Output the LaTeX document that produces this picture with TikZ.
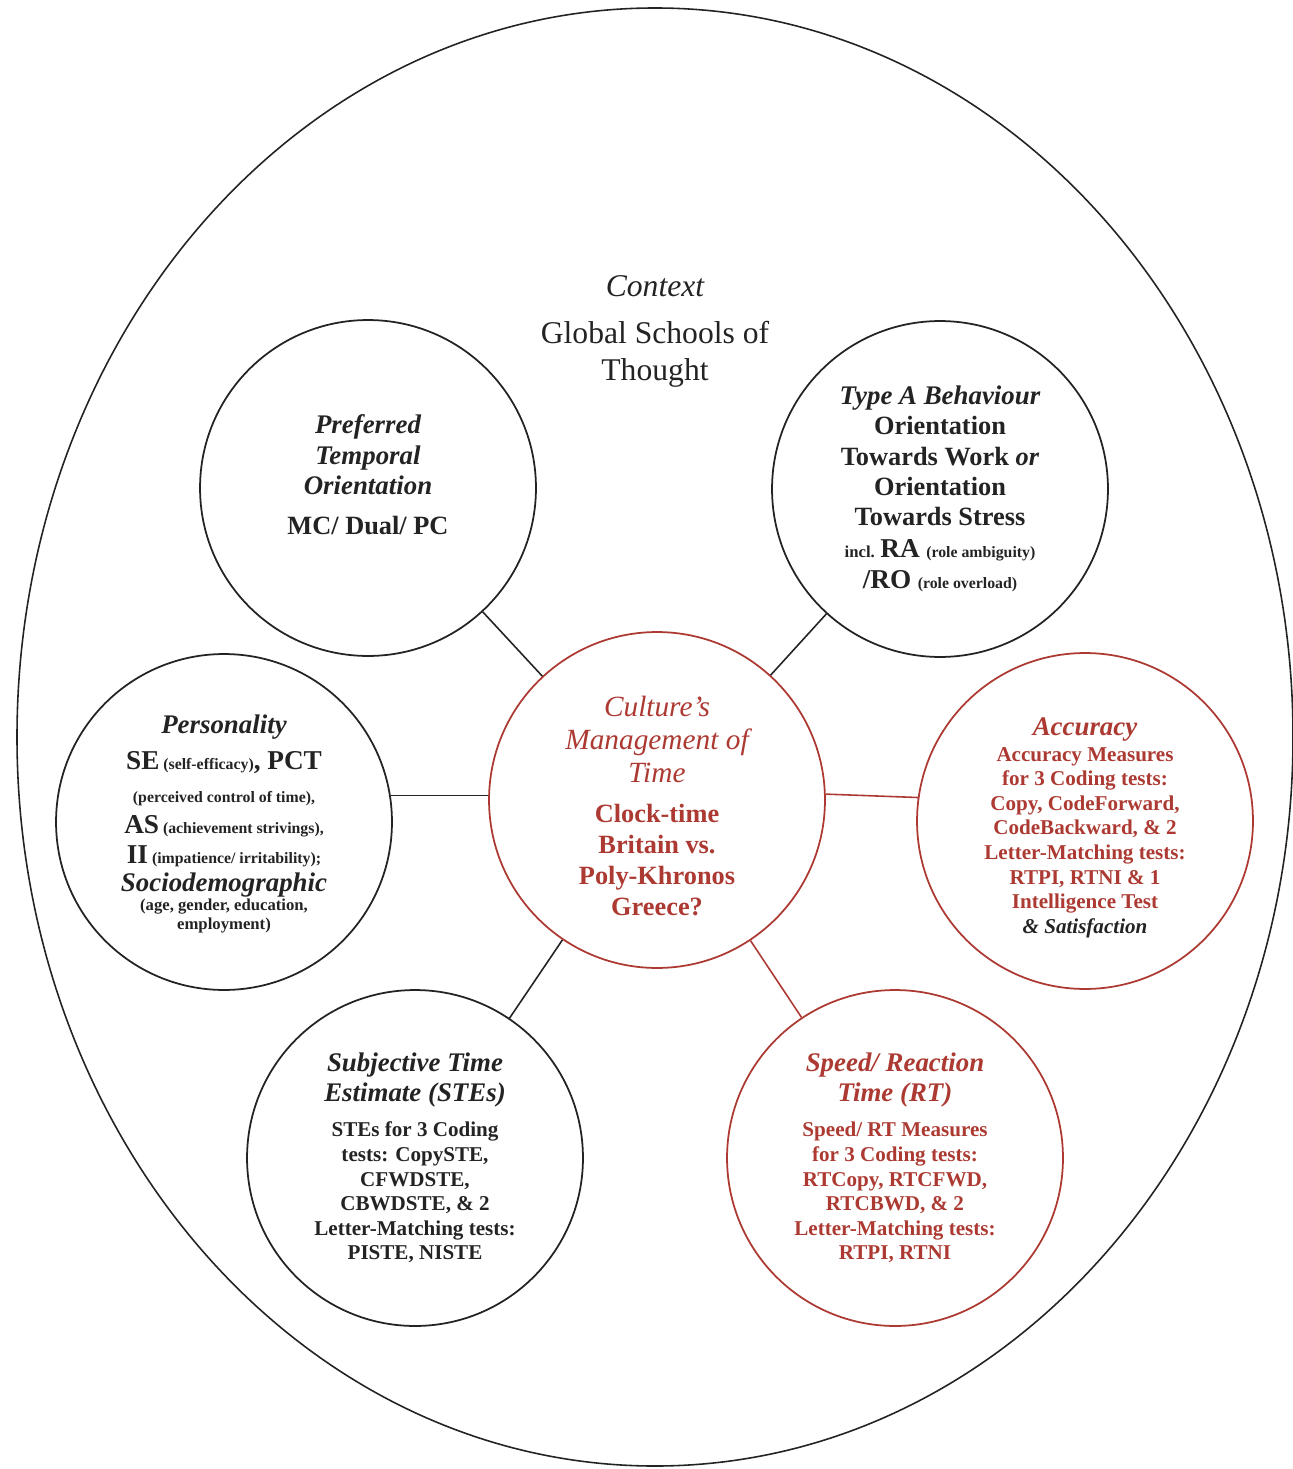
\documentclass[tikz,border=0pt]{standalone}
\usepackage{fontspec}
\setmainfont{Liberation Serif}
\usetikzlibrary{positioning}
\definecolor{culred}{RGB}{172,58,50}
\definecolor{inkgray}{RGB}{35,35,35}
\tikzset{every picture/.style={line width=1pt}}
\tikzset{
  topic/.style={circle, draw=inkgray, minimum size=6.72cm, inner sep=0pt},
  topicred/.style={topic, draw=culred},
  topictxt/.style={align=center, inner sep=0pt, text=inkgray},
  topictxtred/.style={topictxt, text=culred},
  link/.style={draw=inkgray, line width=0.9pt},
  linkred/.style={draw=culred, line width=0.9pt}
}
% font sizes used inside the circles
\newcommand{\ttlsz}{\fontsize{15.3}{17}\selectfont\bfseries\itshape}
\newcommand{\midsz}{\fontsize{15}{17}\selectfont\bfseries}
\newcommand{\bigsz}{\fontsize{15.5}{17}\selectfont\bfseries}
\newcommand{\smlsz}{\fontsize{9}{10.8}\selectfont\bfseries}

\begin{document}
\begin{tikzpicture}[x=0.02cm, y=-0.02cm]
  \useasboundingbox (0,0) rectangle (1293,1469);
  % context ellipse
  \draw[inkgray, line width=0.9pt] (655,737) ellipse [x radius=638, y radius=729];
  \node[text=inkgray, font=\fontsize{18}{21}\selectfont\itshape] (ctx) at (655,286) {Context};
  \node[text=inkgray, align=center, font=\fontsize{18}{21}\selectfont] (gst) at (655,354) {Global Schools of\\Thought};

  % circles
  \node[topic]    (pto)  at (368,488)  {};
  \node[topic]    (tab)  at (940,489)  {};
  \node[topicred] (cmt)  at (657,800)  {};
  \node[topic]    (pers) at (224,822)  {};
  \node[topicred] (acc)  at (1085,821) {};
  \node[topic]    (ste)  at (415,1158) {};
  \node[topicred] (spd)  at (895,1158) {};

  % texts in the circles
  \node[topictxt, font=\fontsize{15}{17.4}\selectfont] (ptotxt) at (368,475)
    {\ttlsz Preferred\\ \ttlsz Temporal\\ \ttlsz Orientation\\[5.3pt]
     \midsz MC/ Dual/ PC};
  \node[topictxt, font=\fontsize{15}{17.2}\selectfont] (tabtxt) at (940,489)
    {\ttlsz Type A Behaviour\\
     \midsz Orientation\\
     \midsz Towards Work \textit{or}\\
     \midsz Orientation\\
     \midsz Towards Stress\\[1pt]
     {\fontsize{9.5}{11}\selectfont\bfseries incl. }{\bigsz RA} {\smlsz (role ambiguity)}\\[0.4pt]
     {\bigsz /RO} {\smlsz (role overload)}};
  \node[topictxtred, font=\fontsize{16.7}{18.8}\selectfont] (cmttxt) at (657,806)
    {\itshape Culture's\\
     \itshape Management of\\
     \itshape Time\\[4pt]
     \midsz Clock-time\\[-1.2pt]
     \midsz Britain vs.\\[-1.2pt]
     \midsz Poly-Khronos\\[-1.2pt]
     \midsz Greece?};
  \node[topictxt, font=\fontsize{9}{10.8}\selectfont\bfseries] (perstxt) at (224,824)
    {{\ttlsz Personality}\\[5.7pt]
     {\bigsz SE} {\smlsz (self-efficacy)}{\bigsz, PCT}\\[8pt]
     {\smlsz (perceived control of time),}\\[4.6pt]
     {\bigsz AS} {\smlsz (achievement strivings),}\\[4pt]
     {\bigsz II} {\smlsz (impatience/ irritability);}\\[2.5pt]
     {\ttlsz Sociodemographic}\\
     {\fontsize{9.5}{10.8}\selectfont (age, gender, education,}\\
     {\fontsize{9.5}{10.8}\selectfont employment)}};
  \node[topictxtred, font=\fontsize{12}{14}\selectfont\bfseries] (acctxt) at (1085,828)
    {{\ttlsz Accuracy}\\[0.4pt]
     Accuracy Measures\\ for 3 Coding tests:\\
     Copy, CodeForward,\\ CodeBackward, \& 2\\
     Letter-Matching tests:\\ RTPI, RTNI \& 1\\
     Intelligence Test\\
     {\itshape\color{inkgray} \& Satisfaction}};
  \node[topictxt, font=\fontsize{12}{14}\selectfont\bfseries] (stetxt) at (415,1158)
    {{\ttlsz Subjective Time}\\[3.1pt] {\ttlsz Estimate (STEs)}\\[6.1pt]
     STEs for 3 Coding\\ tests: CopySTE,\\
     CFWDSTE,\\ CBWDSTE, \& 2\\
     Letter-Matching tests:\\ PISTE, NISTE};
  \node[topictxtred, font=\fontsize{12}{14}\selectfont\bfseries] (spdtxt) at (895,1158)
    {{\ttlsz Speed/ Reaction}\\[3.1pt] {\ttlsz Time (RT)}\\[6.1pt]
     Speed/ RT Measures\\ for 3 Coding tests:\\
     RTCopy, RTCFWD,\\ RTCBWD, \& 2\\
     Letter-Matching tests:\\ RTPI, RTNI};

  % connectors
  \draw[link] (pto) -- (cmt);
  \draw[link] (tab) -- (cmt);
  \draw[link] (pers.9) -- (pers.9 -| cmt.west);
  \draw[link] (ste) -- (cmt);
  \draw[linkred] (cmt.2) -- (acc.172);
  \draw[linkred] (cmt) -- (spd);
\end{tikzpicture}
\end{document}
